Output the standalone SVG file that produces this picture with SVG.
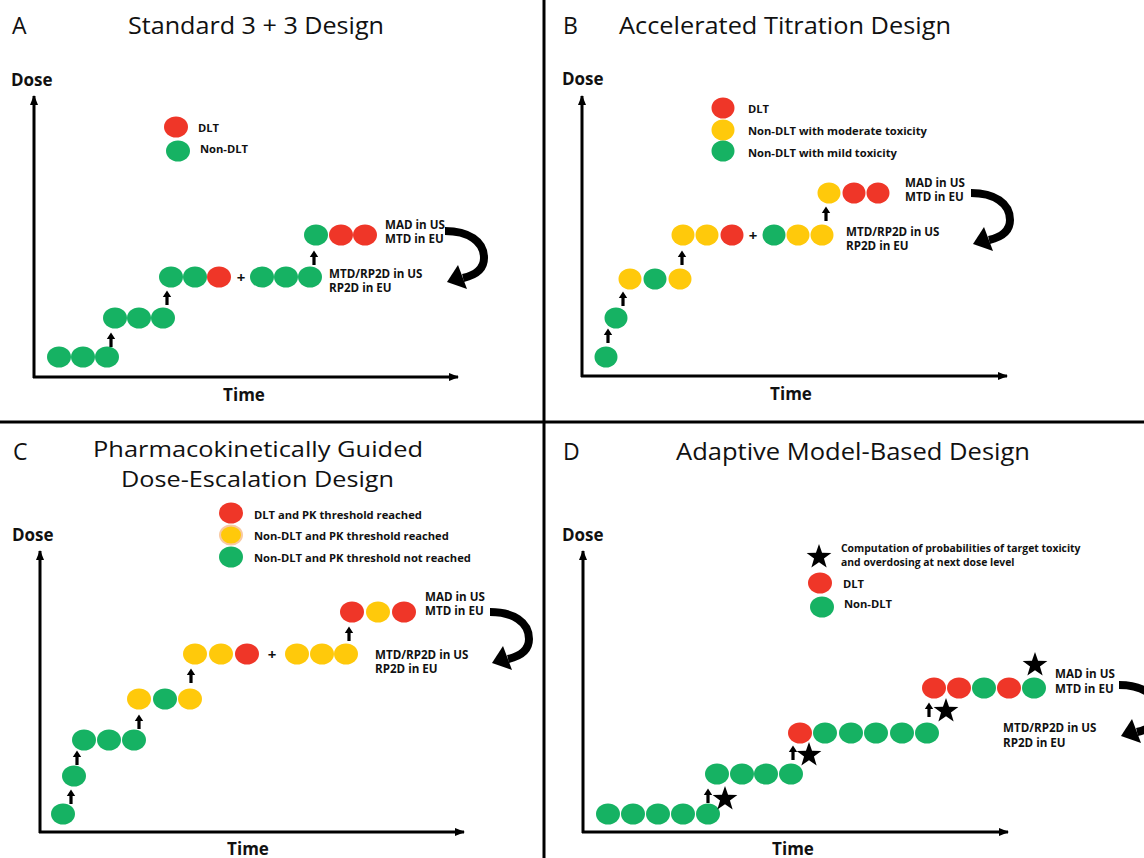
<svg xmlns="http://www.w3.org/2000/svg" xmlns:xlink="http://www.w3.org/1999/xlink" width="1144" height="858" viewBox="0 0 1144 858">
<style>
.ttl{font-family:"Open Sans","Liberation Sans",sans-serif;font-size:23px;fill:#111}
.ttc{font-family:"Open Sans","Liberation Sans",sans-serif;font-size:21px;fill:#111}
.ax{font-family:"Open Sans","Liberation Sans",sans-serif;font-size:17px;font-weight:bold;fill:#111}
.lb{font-family:"Open Sans","Liberation Sans",sans-serif;font-size:11.6px;font-weight:bold;fill:#111}
.lg{font-family:"Open Sans","Liberation Sans",sans-serif;font-size:11.2px;font-weight:bold;fill:#111}
.lgs{font-family:"Open Sans","Liberation Sans",sans-serif;font-size:10.4px;font-weight:bold;fill:#111}
.pl{font-family:"Open Sans","Liberation Sans",sans-serif;font-size:15px;font-weight:bold;fill:#111}
.r{fill:#EF3628}
.g{fill:#16B263}
.y{fill:#FFC90B}
.axis{stroke:#000;stroke-width:3;fill:none}
.div{stroke:#000;stroke-width:3}
.curl{stroke:#000;stroke-width:8;fill:none}
</style>
<defs>
<marker id="ah" markerUnits="userSpaceOnUse" markerWidth="10" markerHeight="10" viewBox="0 0 10 10" refX="9" refY="5" orient="auto">
<path d="M0,1 L10,5 L0,9 Z" fill="#000"/>
</marker>
<g id="up"><path d="M-1.6,0 V-8 H-4.2 L0,-14.5 L4.2,-8 H1.6 V0 Z" fill="#000"/></g>
<g id="star2"><polygon points="0,-13 3.06,-4.2 12.36,-4.02 4.95,1.6 7.64,10.52 0,5.2 -7.64,10.52 -4.95,1.6 -12.36,-4.02 -3.06,-4.2" fill="#000"/></g>
<g id="curl"><path class="curl" d="M-1,0 C22,0 38,10 38,27 C38,38 30,44 17,47"/><polygon points="21,58 12,34 1,51" fill="#000"/></g>
</defs>

<g id="dividers">
<line class="div" x1="544" y1="0" x2="544" y2="858"/>
<line class="div" x1="0" y1="422" x2="1144" y2="422"/>
</g>

<!-- Panel A -->
<g id="panelA">
<text class="ttl" x="12" y="34">A</text>
<text class="ttl" x="128" y="34" textLength="256" lengthAdjust="spacingAndGlyphs">Standard 3 + 3 Design</text>
<text class="ax" x="11" y="86">Dose</text>
<text class="ax" x="244" y="401" text-anchor="middle">Time</text>
<path class="axis" d="M34,378 V96" marker-end="url(#ah)"/>
<path class="axis" d="M33,377 H458" marker-end="url(#ah)"/>
<g id="A-legend">
<ellipse class="r" cx="176" cy="127" rx="12" ry="10.5"/><text class="lg" x="198" y="132">DLT</text>
<ellipse class="g" cx="178" cy="151" rx="12" ry="10.5"/><text class="lg" x="200" y="153">Non-DLT</text>
</g>
<g id="A-level1"><ellipse class="g" cx="59" cy="357" rx="12" ry="10.5"/><ellipse class="g" cx="83" cy="357" rx="12" ry="10.5"/><ellipse class="g" cx="107" cy="357" rx="12" ry="10.5"/></g>
<g id="A-level2"><ellipse class="g" cx="115" cy="318" rx="12" ry="10.5"/><ellipse class="g" cx="139" cy="318" rx="12" ry="10.5"/><ellipse class="g" cx="163" cy="318" rx="12" ry="10.5"/></g>
<g id="A-level3"><ellipse class="g" cx="171" cy="277" rx="12" ry="10.5"/><ellipse class="g" cx="195" cy="277" rx="12" ry="10.5"/><ellipse class="r" cx="219" cy="277" rx="12" ry="10.5"/>
<text class="pl" x="241" y="283" text-anchor="middle">+</text>
<ellipse class="g" cx="262" cy="277" rx="12" ry="10.5"/><ellipse class="g" cx="286" cy="277" rx="12" ry="10.5"/><ellipse class="g" cx="310" cy="277" rx="12" ry="10.5"/></g>
<g id="A-level4"><ellipse class="g" cx="316" cy="235" rx="12" ry="10.5"/><ellipse class="r" cx="341" cy="235" rx="12" ry="10.5"/><ellipse class="r" cx="365" cy="235" rx="12" ry="10.5"/></g>
<g id="A-labels">
<text class="lb" x="385" y="229">MAD in US</text><text class="lb" x="385" y="243">MTD in EU</text>
<text class="lb" x="329" y="278">MTD/RP2D in US</text><text class="lb" x="329" y="292">RP2D in EU</text>
</g>
</g>

<!-- Panel B -->
<g id="panelB">
<text class="ttl" x="563" y="34">B</text>
<text class="ttl" x="619" y="34" textLength="332" lengthAdjust="spacingAndGlyphs">Accelerated Titration Design</text>
<text class="ax" x="562" y="85">Dose</text>
<text class="ax" x="791" y="400" text-anchor="middle">Time</text>
<path class="axis" d="M582,377 V96" marker-end="url(#ah)"/>
<path class="axis" d="M581,376 H1007" marker-end="url(#ah)"/>
<g id="B-legend">
<ellipse class="r" cx="723" cy="108" rx="11.5" ry="10.5"/><text class="lg" x="748" y="113">DLT</text>
<ellipse class="y" cx="723" cy="130" rx="11.5" ry="10.5"/><text class="lg" x="748" y="135">Non-DLT with moderate toxicity</text>
<ellipse class="g" cx="723" cy="151" rx="11.5" ry="10.5"/><text class="lg" x="748" y="157">Non-DLT with mild toxicity</text>
</g>
<g id="B-level1"><ellipse class="g" cx="606" cy="357" rx="11.5" ry="10.5"/></g>
<g id="B-level2"><ellipse class="g" cx="616" cy="318" rx="11.5" ry="10.5"/></g>
<g id="B-level3"><ellipse class="y" cx="630" cy="279" rx="11.5" ry="10.5"/><ellipse class="g" cx="655" cy="279" rx="11.5" ry="10.5"/><ellipse class="y" cx="680" cy="279" rx="11.5" ry="10.5"/></g>
<g id="B-level4"><ellipse class="y" cx="683" cy="235" rx="11.5" ry="10.5"/><ellipse class="y" cx="707" cy="235" rx="11.5" ry="10.5"/><ellipse class="r" cx="732" cy="235" rx="11.5" ry="10.5"/>
<text class="pl" x="753" y="241" text-anchor="middle">+</text>
<ellipse class="g" cx="774" cy="235" rx="11.5" ry="10.5"/><ellipse class="y" cx="798" cy="235" rx="11.5" ry="10.5"/><ellipse class="y" cx="822" cy="235" rx="11.5" ry="10.5"/></g>
<g id="B-level5"><ellipse class="y" cx="829" cy="193" rx="11.5" ry="10.5"/><ellipse class="r" cx="854" cy="193" rx="11.5" ry="10.5"/><ellipse class="r" cx="878" cy="193" rx="11.5" ry="10.5"/></g>
<g id="B-labels">
<text class="lb" x="905" y="187">MAD in US</text><text class="lb" x="905" y="201">MTD in EU</text>
<text class="lb" x="846" y="236">MTD/RP2D in US</text><text class="lb" x="846" y="250">RP2D in EU</text>
</g>
</g>

<!-- Panel C -->
<g id="panelC">
<text class="ttl" x="13" y="460">C</text>
<text class="ttc" x="93" y="457" textLength="330" lengthAdjust="spacingAndGlyphs">Pharmacokinetically Guided</text>
<text class="ttc" x="121" y="487" textLength="273" lengthAdjust="spacingAndGlyphs">Dose-Escalation Design</text>
<text class="ax" x="12" y="541">Dose</text>
<text class="ax" x="248" y="855" text-anchor="middle">Time</text>
<path class="axis" d="M40,833 V551" marker-end="url(#ah)"/>
<path class="axis" d="M39,832 H464" marker-end="url(#ah)"/>
<g id="C-legend">
<ellipse class="r" cx="231" cy="513" rx="12" ry="10.5"/><text class="lg" x="254" y="519">DLT and PK threshold reached</text>
<ellipse class="y" cx="231" cy="535" rx="11" ry="9.5" stroke="#F8C9A2" stroke-width="2"/><text class="lg" x="254" y="540">Non-DLT and PK threshold reached</text>
<ellipse class="g" cx="231" cy="557" rx="12" ry="10.5"/><text class="lg" x="254" y="562">Non-DLT and PK threshold not reached</text>
</g>
<g id="C-level1"><ellipse class="g" cx="63" cy="814" rx="12" ry="10.5"/></g>
<g id="C-level2"><ellipse class="g" cx="74" cy="776" rx="12" ry="10.5"/></g>
<g id="C-level3"><ellipse class="g" cx="84" cy="740" rx="12" ry="10.5"/><ellipse class="g" cx="109" cy="740" rx="12" ry="10.5"/><ellipse class="g" cx="134" cy="740" rx="12" ry="10.5"/></g>
<g id="C-level4"><ellipse class="y" cx="139" cy="699" rx="12" ry="10.5"/><ellipse class="g" cx="165" cy="699" rx="12" ry="10.5"/><ellipse class="y" cx="190" cy="699" rx="12" ry="10.5"/></g>
<g id="C-level5"><ellipse class="y" cx="195" cy="654" rx="12" ry="10.5"/><ellipse class="y" cx="221" cy="654" rx="12" ry="10.5"/><ellipse class="r" cx="247" cy="654" rx="12" ry="10.5"/>
<text class="pl" x="272" y="660" text-anchor="middle">+</text>
<ellipse class="y" cx="297" cy="654" rx="12" ry="10.5"/><ellipse class="y" cx="322" cy="654" rx="12" ry="10.5"/><ellipse class="y" cx="346" cy="654" rx="12" ry="10.5"/></g>
<g id="C-level6"><ellipse class="r" cx="352" cy="612" rx="12" ry="10.5"/><ellipse class="y" cx="378" cy="612" rx="12" ry="10.5"/><ellipse class="r" cx="404" cy="612" rx="12" ry="10.5"/></g>
<g id="C-labels">
<text class="lb" x="425" y="601">MAD in US</text><text class="lb" x="425" y="615">MTD in EU</text>
<text class="lb" x="375" y="659">MTD/RP2D in US</text><text class="lb" x="375" y="673">RP2D in EU</text>
</g>
</g>

<!-- Panel D -->
<g id="panelD">
<text class="ttl" x="563" y="460">D</text>
<text class="ttl" x="676" y="460" textLength="354" lengthAdjust="spacingAndGlyphs">Adaptive Model-Based Design</text>
<text class="ax" x="562" y="541">Dose</text>
<text class="ax" x="793" y="855" text-anchor="middle">Time</text>
<path class="axis" d="M583,833 V551" marker-end="url(#ah)"/>
<path class="axis" d="M582,832 H1008" marker-end="url(#ah)"/>
<g id="D-legend">
<use href="#star2" x="819" y="557"/>
<text class="lgs" x="841" y="552">Computation of probabilities of target toxicity</text>
<text class="lgs" x="841" y="566">and overdosing at next dose level</text>
<ellipse class="r" cx="820" cy="583" rx="12" ry="10.5"/><text class="lg" x="843" y="588">DLT</text>
<ellipse class="g" cx="822" cy="607" rx="12" ry="10.5"/><text class="lg" x="844" y="608">Non-DLT</text>
</g>
<g id="D-level1"><ellipse class="g" cx="608" cy="814" rx="12" ry="10.5"/><ellipse class="g" cx="633" cy="814" rx="12" ry="10.5"/><ellipse class="g" cx="658" cy="814" rx="12" ry="10.5"/><ellipse class="g" cx="683" cy="814" rx="12" ry="10.5"/><ellipse class="g" cx="708" cy="814" rx="12" ry="10.5"/></g>
<g id="D-level2"><ellipse class="g" cx="717" cy="774" rx="12" ry="10.5"/><ellipse class="g" cx="742" cy="774" rx="12" ry="10.5"/><ellipse class="g" cx="766" cy="774" rx="12" ry="10.5"/><ellipse class="g" cx="791" cy="774" rx="12" ry="10.5"/></g>
<g id="D-level3"><ellipse class="r" cx="800" cy="733" rx="12" ry="10.5"/><ellipse class="g" cx="825" cy="733" rx="12" ry="10.5"/><ellipse class="g" cx="851" cy="733" rx="12" ry="10.5"/><ellipse class="g" cx="876" cy="733" rx="12" ry="10.5"/><ellipse class="g" cx="902" cy="733" rx="12" ry="10.5"/><ellipse class="g" cx="927" cy="733" rx="12" ry="10.5"/></g>
<g id="D-level4"><ellipse class="r" cx="934" cy="688" rx="12" ry="10.5"/><ellipse class="r" cx="959" cy="688" rx="12" ry="10.5"/><ellipse class="g" cx="984" cy="688" rx="12" ry="10.5"/><ellipse class="r" cx="1009" cy="688" rx="12" ry="10.5"/><ellipse class="g" cx="1034" cy="688" rx="12" ry="10.5"/></g>
<g id="D-stars">
<use href="#star2" x="725" y="799"/><use href="#star2" x="809" y="755"/><use href="#star2" x="946" y="711"/><use href="#star2" x="1035" y="665"/>
</g>
<g id="D-labels">
<text class="lb" x="1055" y="678">MAD in US</text><text class="lb" x="1055" y="693">MTD in EU</text>
<text class="lb" x="1003" y="732">MTD/RP2D in US</text><text class="lb" x="1003" y="747">RP2D in EU</text>
</g>
</g>

<g id="connectors">
<use href="#up" x="111" y="347"/><use href="#up" x="167" y="305"/><use href="#up" x="314" y="265"/>
<use href="#curl" x="446" y="231"/>
<use href="#up" x="608" y="343"/><use href="#up" x="623" y="306"/><use href="#up" x="682" y="265"/><use href="#up" x="826" y="221"/>
<use href="#curl" x="972" y="193"/>
<use href="#up" x="71" y="804"/><use href="#up" x="77" y="765"/><use href="#up" x="139" y="729"/><use href="#up" x="191" y="683"/><use href="#up" x="349" y="641"/>
<use href="#curl" x="491" y="612"/>
<use href="#up" x="708" y="803"/><use href="#up" x="793" y="760"/><use href="#up" x="929" y="717"/>
<use href="#curl" x="1120" y="685"/>
</g>
</svg>
